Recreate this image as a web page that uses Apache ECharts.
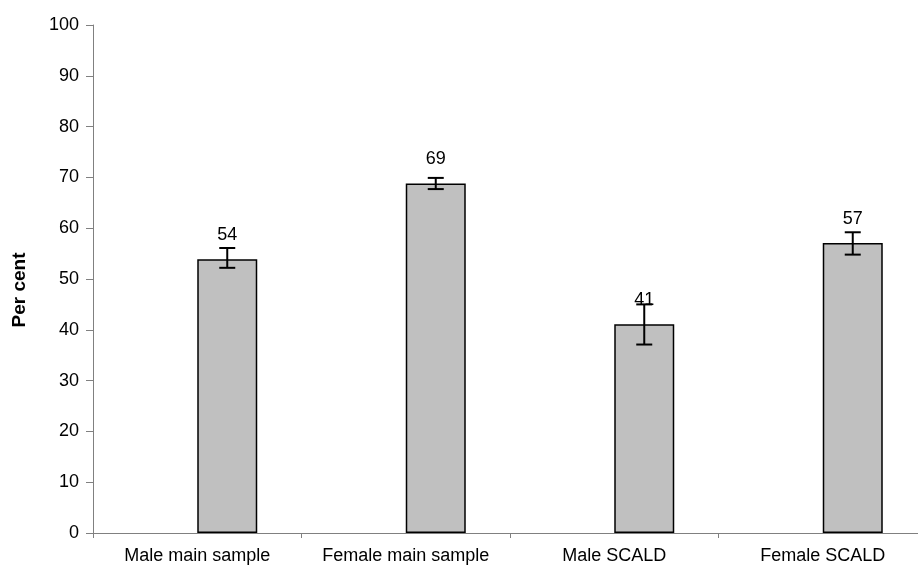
<!DOCTYPE html>
<html>
<head>
<meta charset="utf-8">
<script src="https://cdn.jsdelivr.net/npm/echarts@6/dist/echarts.min.js"></script>
<style>
html,body{margin:0;padding:0;background:#fff;overflow:hidden;}
#chart{width:927px;height:569px;}
</style>
</head>
<body>
<div id="chart"></div>
<script>
const categories = ['Male main sample', 'Female main sample', 'Male SCALD', 'Female SCALD'];
const values = [53.9, 68.8, 41.1, 57.1];
const labels = ['54', '69', '41', '57'];
const errLow = [52.2, 67.7, 37.1, 54.8];
const errHigh = [56.1, 69.9, 45.0, 59.2];
const yTicks = [0, 10, 20, 30, 40, 50, 60, 70, 80, 90, 100];

const BAR_W = 60;
const FONT = 'Arial, "Liberation Sans", sans-serif';

const chart = echarts.init(document.getElementById('chart'), null, {renderer: 'canvas'});

const option = {
  animation: false,
  backgroundColor: '#ffffff',
  grid: {left: 93, right: 0, top: 25, bottom: 36, containLabel: false},
  xAxis: {
    type: 'category',
    data: categories,
    axisLine: {lineStyle: {color: '#808080', width: 1}},
    axisTick: {show: true, interval: 0, length: 5, lineStyle: {color: '#808080'}},
    axisLabel: {color: '#000', fontFamily: FONT, fontSize: 18, margin: 14, interval: 0, hideOverlap: false}
  },
  yAxis: {
    type: 'value',
    min: yTicks[0],
    max: yTicks[yTicks.length - 1],
    interval: 10,
    name: 'Per cent',
    nameLocation: 'middle',
    nameGap: 64,
    nameRotate: 90,
    nameTextStyle: {color: '#000', fontFamily: FONT, fontSize: 19, fontWeight: 'bold', padding: [0, 22, 0, 0]},
    axisLine: {show: true, lineStyle: {color: '#808080', width: 1}},
    axisTick: {show: true, length: 7, lineStyle: {color: '#808080'}},
    splitLine: {show: false},
    axisLabel: {color: '#000', fontFamily: FONT, fontSize: 18, margin: 14}
  },
  series: [
    {
      type: 'bar',
      name: 'blank',
      data: categories.map(() => '-'),
      barWidth: BAR_W,
      barGap: '0%'
    },
    {
      type: 'bar',
      name: 'Per cent',
      data: values,
      barWidth: BAR_W,
      barGap: '0%',
      itemStyle: {color: '#c0c0c0', borderColor: '#000', borderWidth: 1.5},
      label: {
        show: true,
        position: 'top',
        distance: 15,
        color: '#000',
        fontFamily: FONT,
        fontSize: 18,
        formatter: p => labels[p.dataIndex]
      },
      z: 2
    },
    {
      type: 'custom',
      name: 'error',
      data: categories.map((c, i) => [i, errLow[i], errHigh[i]]),
      z: 5,
      renderItem: function (params, api) {
        const i = api.value(0);
        const lo = api.coord([i, api.value(1)]);
        const hi = api.coord([i, api.value(2)]);
        const x = lo[0] + BAR_W / 2;
        const cap = 8;
        const style = {stroke: '#000', lineWidth: 2};
        return {
          type: 'group',
          children: [
            {type: 'line', shape: {x1: x, y1: hi[1], x2: x, y2: lo[1]}, style: style},
            {type: 'line', shape: {x1: x - cap, y1: hi[1], x2: x + cap, y2: hi[1]}, style: style},
            {type: 'line', shape: {x1: x - cap, y1: lo[1], x2: x + cap, y2: lo[1]}, style: style}
          ]
        };
      }
    }
  ]
};
chart.setOption(option);
</script>
</body>
</html>
